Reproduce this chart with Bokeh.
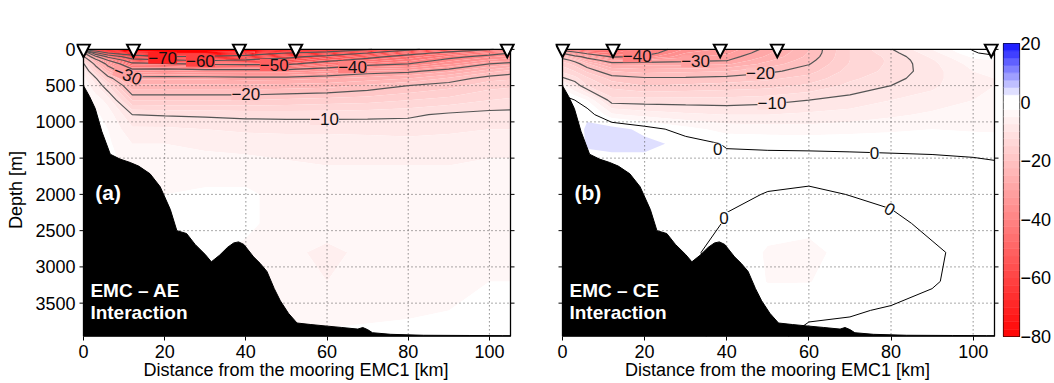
import numpy as np
from bokeh.plotting import figure
from bokeh.models import Range1d, FixedTicker, Label
from bokeh.layouts import row
from bokeh.embed import file_html
from bokeh.resources import INLINE
from bokeh.core.properties import value

# ---------------- data ----------------
dist_km = [0, 3, 6, 12, 20, 30, 40, 50, 60, 70, 80, 90, 100, 105.2]
depth_m = [0, 50, 100, 150, 200, 300, 400, 500, 700, 900, 1100, 1300, 1600,
           2000, 2400, 2800, 3200, 3600, 3960]

# (a) EMC - AE interaction, velocity [cm/s], rows = depth_m, cols = dist_km
vel_ae = [
    [-75, -80, -82, -85, -85, -85, -84, -82, -78, -71, -62, -55, -50.5, -48],
    [-28, -58, -70, -76, -78, -78, -76, -70, -66, -60, -53, -48, -43, -40],
    [-19, -38, -52, -66, -70, -69, -67, -62, -57.5, -52.5, -47, -42, -38, -36.5],
    [-14, -27, -40, -56, -59, -61, -59, -57, -52, -47, -43.5, -38.5, -34.5, -33],
    [-9.5, -22, -32, -48, -49, -51, -51.5, -51.5, -46, -42, -40, -35.5, -30, -28.5],
    [-6, -15, -25, -37, -36, -37, -37, -37, -35, -32, -31, -28, -23.5, -21.5],
    [-4, -9.5, -18, -28, -28, -28, -28.5, -28.5, -27.5, -26.5, -25, -22, -18.5, -18],
    [-3, -7, -12.5, -24.5, -24.5, -24.5, -24.5, -24, -23.5, -22, -20, -18.5, -16, -15.5],
    [-2, -3.5, -6, -17.5, -17.5, -17.5, -17.5, -17, -16.5, -16, -15, -14, -12.5, -12],
    [-2, -2, -3.5, -10, -10.3, -10.5, -10.8, -11, -11, -10.8, -10.5, -9.5, -9, -9],
    [-2, -2, -2.5, -7, -7, -7.5, -8, -8, -8, -8.2, -8.5, -8, -7.5, -7.5],
    [-2, -2, -2, -5, -5, -5.5, -6, -6.5, -6.5, -6.5, -6.5, -6.5, -6, -6],
    [-2, -2, -2, -3, -3.5, -4, -4, -4.5, -5, -5, -5, -5, -4.5, -4.5],
    [-2, -2, -2, -2, -2.5, -2, -2, -3.5, -4, -4, -4, -4, -3.5, -3.5],
    [-2, -2, -2, -2, -2, -1.5, -2, -3.5, -4, -4, -4, -4, -3.5, -3],
    [-2, -2, -2, -2, -2, -2, -3, -4.5, -5.5, -4.5, -4, -4, -3, -2.5],
    [-2, -2, -2, -2, -2, -2, -3, -4, -5, -4.5, -4, -3.5, -2.5, -2.5],
    [-2, -2, -2, -2, -2, -2, -2, -3, -3.5, -3, -3, -2.5, -2, -1.5],
    [-2, -2, -2, -2, -2, -2, -2, -2, -2, -2, -1.5, -1.5, -1, -1],
]

# (b) EMC - CE interaction
vel_ce = [
    [-45, -48, -49, -48, -44, -37, -34, -29, -22.5, -15, -10.2, -5, 0.3, 5],
    [-31, -37, -42, -45, -42.5, -35, -33, -28, -22.3, -15, -11, -6, -0.5, 1.5],
    [-22, -28, -32, -41, -39, -33, -31.5, -27, -21.8, -15, -11.8, -7, -2, -1],
    [-18.5, -21, -27, -33, -32, -31, -30.2, -25.5, -21, -15, -12, -7.8, -3, -2.5],
    [-16, -18.5, -22, -28.5, -28.5, -28.5, -28, -24, -20.2, -14.8, -12, -8.2, -4, -3.5],
    [-13, -15, -18, -22.5, -23.5, -23, -22.5, -20.8, -18.5, -14, -11.8, -8.5, -5, -4.5],
    [-9.5, -11.5, -14.5, -18.5, -19.5, -19.5, -19, -18, -16.5, -13, -11, -8.3, -5.5, -5],
    [-4, -8, -12.5, -16, -17.5, -17, -16.5, -16, -14.5, -11.8, -10, -8, -5.5, -5],
    [2, 0, -2.5, -11.5, -11.5, -11.5, -11.5, -11, -10, -9, -7.5, -6.5, -5, -4.5],
    [1.5, 1, 2, -4.5, -6, -7, -7.5, -7.5, -7, -6.5, -5.5, -4.5, -4, -3.5],
    [1, 1, 3, 4, 1.5, -1.5, -3.5, -3.8, -4, -3.5, -3, -2.5, -2.8, -2.8],
    [1, 1, 2.8, 3.5, 3.5, 1.5, -0.3, -0.4, -0.5, -0.55, -0.7, -0.8, -1.2, -1.5],
    [1, 1, 1.5, 1, 1, 1, 1, 0.9, 1, 0.9, 0.9, 0.8, 0.7, 0.45],
    [0.5, 0.5, 0.5, 0.5, 0.5, 0.5, 0.5, -0.1, -0.4, 0.05, 0.3, 0.5, 0.5, 0.5],
    [0.5, 0.5, 0.5, 0.5, 0.5, 2, -0.3, -1.5, -1.8, -1, -0.3, 0.3, 0.5, 0.5],
    [0.5, 0.5, 0.5, 0.5, 0.5, 0.3, -0.5, -2.8, -3.2, -1.6, -1, -0.2, 0.4, 0.4],
    [0.5, 0.5, 0.5, 0.5, 0.5, 0.5, -0.5, -2.6, -2.6, -1.3, -1, -0.1, 0.4, 0.4],
    [0.5, 0.5, 0.5, 0.5, 0.5, 0.5, -0.5, -1, -0.4, -0.2, 0.2, 0.3, 0.4, 0.4],
    [0.5, 0.5, 0.5, 0.5, 0.5, 0.5, -0.5, -0.5, 0.5, 0.6, 0.6, 0.5, 0.4, 0.4],
]

# sea floor
bathy_km = [0, 1.5, 2.9, 4.5, 6.6, 9.0, 11.5, 13.6, 16.4, 18.9, 21.4, 23.0, 25.4,
            27.5, 30.0, 31.5, 33.5, 35.5, 37.0, 38.2, 39.5, 41.9, 43.5, 45.2, 47.0,
            48.5, 50.5, 52.6, 56.0, 59.5, 63.5, 67.6, 68.8, 70.0, 71.2, 75.7, 83.8,
            95.0, 103.3, 105.2]
bathy_m = [500, 650, 817, 1130, 1446, 1513, 1560, 1610, 1716, 1895, 2210, 2500, 2540,
           2690, 2830, 2930, 2840, 2730, 2670, 2655, 2690, 2861, 2950, 3063, 3300,
           3468, 3640, 3774, 3795, 3814, 3835, 3858, 3836, 3865, 3908, 3930, 3943,
           3946, 3948, 3948]

mooring_km = [0, 12.3, 38.4, 52.3, 104.4]

ae_line_levels = [-70, -60, -50, -40, -30, -20, -10]
ce_line_levels = [-40, -30, -20, -10, 0]

ae_lab_km = [19.5, 28.8, 47.0, 66.3, 10.9, 40.0, 59.4]
ae_lab_m = [116, 157, 215, 242, 350, 620, 961]
ae_lab_val = [-70, -60, -50, -40, -30, -20, -10]
ae_lab_text = ["\u221270", "\u221260", "\u221250", "\u221240", "\u221230", "\u221220", "\u221210"]
ae_lab_angle = [0, 0, 0, 0, -0.38, 0, 0]

ce_lab_km = [18.2, 32.4, 48.2, 51.0, 37.8, 76.0, 39.3, 79.7]
ce_lab_m = [94, 162, 332, 745, 1369, 1423, 2322, 2201]
ce_lab_val = [-40, -30, -20, -10, 0, 0, 0, 0]
ce_lab_text = ["\u221240", "\u221230", "\u221220", "\u221210", "0", "0", "0", "0"]
ce_lab_angle = [0, 0, 0, 0, 0, 0, 0, -0.5]

x_ticks = [0, 20, 40, 60, 80, 100]
y_ticks = [0, 500, 1000, 1500, 2000, 2500, 3000, 3500]
cbar_ticks = [20, 0, -20, -40, -60, -80]
cbar_low, cbar_high, cbar_step = -80, 20, 2.5

# ---------------- style ----------------
FONT = "Liberation Sans"
X_END = 105.2
Y_END = 3960
H = 383
BOX_TOP, BOX_H = 43, 293
PAD_L, PAD_R, PAD_T = 7, 5, 6
TICK = 4


def vel_color(v):
    if v < 0:
        t = min(-v / 80.0, 1.0)
        c = int(round(255 * (1 - t)))
        return "#%02x%02x%02x" % (255, c, c)
    t = min(v / 20.0, 1.0)
    c = int(round(255 * (1 - t)))
    return "#%02x%02x%02x" % (c, c, 255)


inner_levels = [float(v) for v in np.arange(cbar_low, cbar_high + 0.001, cbar_step)]
fill_levels = [-200.0] + inner_levels + [200.0]


def band_color(a, b):
    if b <= 0:
        return vel_color(max(b, -80))
    return vel_color(min(a, 20))


band_colors = [band_color(a, b) for a, b in zip(fill_levels[:-1], fill_levels[1:])]


def style_axis(ax):
    ax.major_label_text_font = FONT
    ax.major_label_text_font_size = "18px"
    ax.major_label_text_color = "black"
    ax.axis_label_text_font = FONT
    ax.axis_label_text_font_size = "18px"
    ax.axis_label_text_font_style = "normal"
    ax.axis_label_text_color = "black"
    ax.minor_tick_line_color = None
    ax.major_tick_line_color = "black"
    ax.axis_line_color = None


def panel(vel, line_levels, line_colors, line_widths, lab_km, lab_m, lab_val, lab_text,
          lab_angle, tag, name1, width, box_left, box_w, show_ylab):
    kpp = X_END / box_w
    mpp = Y_END / BOX_H
    bl = box_left - PAD_L
    fw = box_w + PAD_L + PAD_R
    p = figure(width=width, height=H,
               x_range=Range1d(-PAD_L * kpp, X_END + PAD_R * kpp),
               y_range=Range1d(Y_END, -PAD_T * mpp),
               output_backend="svg", toolbar_location=None,
               min_border_left=bl, min_border_right=width - bl - fw,
               min_border_top=BOX_TOP - PAD_T, min_border_bottom=H - BOX_TOP - BOX_H)
    p.outline_line_color = None
    p.background_fill_color = "white"
    p.border_fill_color = "white"
    p.grid.visible = False

    z = np.array(vel, dtype=float)
    fr = p.contour(dist_km, depth_m, z, fill_levels, fill_color=band_colors, line_color=None)
    fr.level = "image"

    # dotted grid at tick positions
    gx = [t for t in x_ticks if t > 0]
    gy = [t for t in y_ticks if t > 0]
    p.segment(x0=gx, y0=[0] * len(gx), x1=gx, y1=[Y_END] * len(gx),
              line_color="#555555", line_dash="1 3", line_width=1)
    p.segment(x0=[0] * len(gy), y0=gy, x1=[X_END] * len(gy), y1=gy,
              line_color="#555555", line_dash="1 3", line_width=1)

    p.contour(dist_km, depth_m, z, line_levels, fill_color=None,
              line_color=line_colors, line_width=line_widths)

    # sea floor
    px = bathy_km + [X_END, 0]
    py = bathy_m + [Y_END, Y_END]
    p.patch(px, py, fill_color="black", line_color="black", line_width=1)

    # contour labels, with a background of the local colour so the line is broken
    p.text(x=lab_km, y=lab_m, text=lab_text, angle=lab_angle, text_font=value(FONT),
           text_font_size="17px", text_align="center", text_baseline="middle",
           text_color="#111111", background_fill_color=[vel_color(v) for v in lab_val],
           padding=0)

    # box, side ticks
    p.quad(left=0, right=X_END, top=0, bottom=Y_END, fill_color=None,
           line_color="black", line_width=1.3)
    p.segment(x0=[-TICK * kpp] * len(y_ticks), y0=y_ticks, x1=[0] * len(y_ticks), y1=y_ticks,
              line_color="black", line_width=1)
    p.segment(x0=[X_END] * len(y_ticks), y0=y_ticks, x1=[X_END + TICK * kpp] * len(y_ticks),
              y1=y_ticks, line_color="black", line_width=1)

    # moorings
    hw = 6.5 * kpp
    p.patches(xs=[[m - hw, m + hw, m] for m in mooring_km],
              ys=[[-5 * mpp, -5 * mpp, 8 * mpp] for _ in mooring_km],
              fill_color="white", line_color="black", line_width=2, line_join="miter")

    # axes
    xa = p.xaxis[0]
    ya = p.yaxis[0]
    for ax in (xa, ya):
        style_axis(ax)
    xa.ticker = FixedTicker(ticks=x_ticks)
    ya.ticker = FixedTicker(ticks=y_ticks)
    xa.major_tick_in = 0
    xa.major_tick_out = TICK
    xa.major_label_standoff = 4
    xa.axis_label = "Distance from the mooring EMC1 [km]"
    xa.axis_label_standoff = -1
    ya.major_tick_in = 0
    ya.major_tick_out = 0
    if show_ylab:
        ya.axis_label = "Depth [m]"
        ya.major_label_standoff = 1
        ya.axis_label_standoff = 6
    else:
        ya.major_label_overrides = {t: "" for t in y_ticks}
        ya.major_label_standoff = 0

    def ypx(px_abs):
        return (px_abs - BOX_TOP) * mpp

    p.add_layout(Label(x=2.9, y=ypx(177), text=tag, text_color="white", text_font=FONT,
                       text_font_size="21px", text_font_style="bold",
                       text_baseline="top"))
    p.add_layout(Label(x=1.7, y=ypx(278), text=name1, text_color="white", text_font=FONT,
                       text_font_size="19px", text_font_style="bold",
                       text_baseline="top"))
    p.add_layout(Label(x=1.7, y=ypx(301), text="Interaction", text_color="white", text_font=FONT,
                       text_font_size="19px", text_font_style="bold",
                       text_baseline="top"))
    return p


p1 = panel(vel_ae, ae_line_levels, ["#555555"] * len(ae_line_levels), 1.2,
           ae_lab_km, ae_lab_m, ae_lab_val, ae_lab_text, ae_lab_angle,
           "(a)", "EMC \u2013 AE", 540, 83, 427, True)
p2 = panel(vel_ce, ce_line_levels, ["#555555"] * 4 + ["black"], [1.2, 1.2, 1.2, 1.2, 1.0],
           ce_lab_km, ce_lab_m, ce_lab_val, ce_lab_text, ce_lab_angle,
           "(b)", "EMC \u2013 CE", 461, 22, 432, False)

# ---------------- colour bar ----------------
pc = figure(width=53, height=H, x_range=Range1d(0, 1), y_range=Range1d(cbar_low, cbar_high),
            output_backend="svg", toolbar_location=None, x_axis_location=None,
            y_axis_location="right", min_border_left=2, min_border_right=33,
            min_border_top=43, min_border_bottom=44)
cb_bottom = inner_levels[:-1]
cb_top = inner_levels[1:]
cb_colors = [band_color(a, b) for a, b in zip(cb_bottom, cb_top)]
pc.quad(left=0, right=1, bottom=cb_bottom, top=cb_top, fill_color=cb_colors,
        line_color=cb_colors, line_width=0.6)
pc.grid.visible = False
pc.outline_line_color = "black"
pc.outline_line_width = 1.2
ca = pc.yaxis[0]
style_axis(ca)
ca.ticker = FixedTicker(ticks=cbar_ticks)
ca.major_label_overrides = {t: (("\u2212%d" % -t) if t < 0 else str(t)) for t in cbar_ticks}
ca.major_tick_out = 0
ca.major_tick_in = 0
ca.major_label_standoff = 1
ppu = (H - 43 - 44) / (cbar_high - cbar_low)
pc.add_layout(Label(x=0.39, y=cbar_high + 16 / ppu, text="cm s", text_font=FONT,
                    text_font_size="17px", text_color="black", text_baseline="alphabetic"))
pc.add_layout(Label(x=2.2, y=cbar_high + 29 / ppu, text="\u22121", text_font=FONT,
                    text_font_size="11px", text_color="black", text_baseline="alphabetic"))

layout = row(p1, p2, pc)
open("out.html", "w").write(file_html(layout, INLINE))
